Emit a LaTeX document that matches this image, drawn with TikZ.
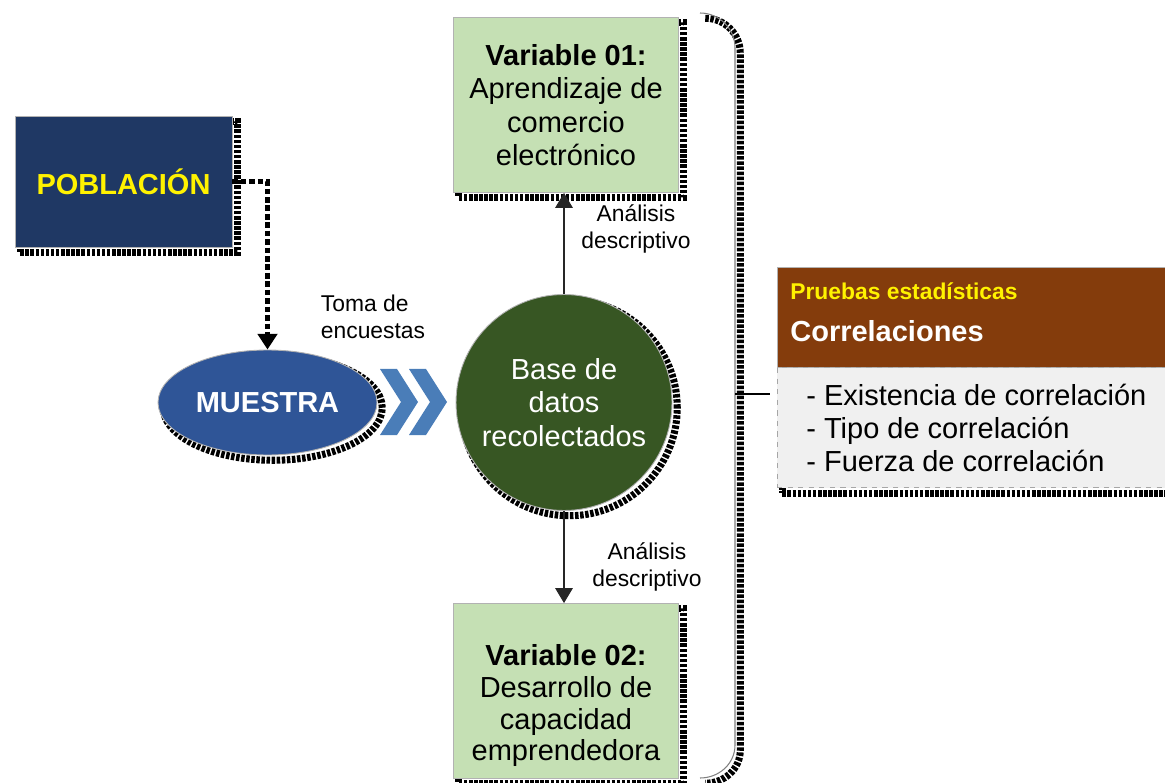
\documentclass[tikz,border=0pt]{standalone}
\usepackage{fontspec}
\setmainfont{Liberation Sans}
\usetikzlibrary{arrows.meta, positioning, shapes.geometric}
\definecolor{navy}{HTML}{1F3864}
\definecolor{muesblue}{HTML}{2F5597}
\definecolor{dbgreen}{HTML}{375623}
\definecolor{varfill}{HTML}{C5E0B4}
\definecolor{corrbrown}{HTML}{843C0C}
\definecolor{listgray}{HTML}{F0F0F0}
\definecolor{chevblue}{HTML}{4A7DB8}
\newcommand\bigtxt{\fontsize{16.5}{19}\selectfont}
\newcommand\smalltxt{\fontsize{13}{15.6}\selectfont}
\tikzstyle{dither}=[preaction={draw=black, line width=4pt, dash pattern=on 2pt off 0.9pt, transform canvas={shift={(3pt,-3pt)}}}]
\tikzstyle{pobbox}=[rectangle, draw=gray!60, line width=0.5pt, fill=navy, dither, minimum width=4.34cm, minimum height=2.62cm, text=yellow, font=\bfseries\bigtxt]
\tikzstyle{muesnode}=[ellipse, draw=gray!60, line width=0.5pt, fill=muesblue, dither, inner sep=0pt, minimum width=4.38cm, minimum height=2.1cm, text=white, font=\bfseries\bigtxt]
\tikzstyle{basenode}=[circle, draw=gray!60, line width=0.5pt, fill=dbgreen, dither, minimum size=4.32cm, text=white, align=center, font=\bigtxt]
\tikzstyle{varbox}=[rectangle, draw=gray!60, line width=0.5pt, fill=varfill, dither, minimum width=4.5cm, minimum height=3.5cm, align=center, font=\bigtxt]
\tikzstyle{lbl}=[align=center, font=\smalltxt, inner sep=0pt]
\tikzstyle{dotconn}=[draw=black, line width=2.4pt, dash pattern=on 3.2pt off 1.6pt, -{Triangle[width=11pt,length=9pt]}]
\tikzstyle{thinarrow}=[draw=black!85, line width=0.6pt, -{Triangle[width=10pt,length=8.5pt]}]

\begin{document}
\begin{tikzpicture}[x=0.02cm, y=-0.02cm]
  \useasboundingbox (0,0) rectangle (1165,783);

  \node[pobbox]   (pob)  at (123.5,181.5) {POBLACIÓN};
  \node[muesnode] (mues) at (267.5,402.5) {MUESTRA};
  \node[basenode] (base) at (564,402.5) {Base de\\datos\\recolectados};
  \node[varbox]   (var1) at (566,105) {\textbf{Variable 01:}\\Aprendizaje de\\comercio\\electrónico};
  \node[varbox]   (var2) at (566,691) {};
  \node[align=center, font=\bigtxt, inner sep=0pt] (var2txt) at ([yshift=-8.5pt]var2.center)
    {\textbf{Variable 02:}\\[-1pt]Desarrollo de\\[-1pt]capacidad\\[-1pt]emprendedora};

  \node[lbl, align=left] (toma) at (373,317) {Toma de\\encuestas};
  \node[lbl] (an1) at (636,229) {Análisis\\descriptivo};
  \node[lbl] (an2) at (647,567) {Análisis\\descriptivo};

  % chevrons between muestra and base
  \foreach \dx in {0,29}
    \fill[chevblue, shift={(\dx,0)}] (380,369) -- (397,369) -- (418,402) -- (397,435)
      -- (380,435) -- (401,402) -- cycle;

  \draw[dotconn] (pob.east) -| (mues.north);
  \path
    (base.north) edge[thinarrow] (base.north |- var1.south)
    (base.south) edge[thinarrow] (base.south |- var2.north);

  % pruebas estadisticas
  \node[rectangle, fill=corrbrown, draw=gray!60, line width=0.5pt, minimum width=7.76cm, minimum height=2cm] (head) at (971,317) {};
  \node[rectangle, fill=listgray, draw=gray!70, dashed, line width=0.5pt, dither, minimum width=7.76cm, minimum height=2.4cm,
        below=0pt of head] (list) {};
  \node[anchor=west, inner sep=0pt, align=left, font=\bigtxt] (items) at (806,428)
    {- Existencia de correlación\\- Tipo de correlación\\- Fuerza de correlación};
  \node[anchor=west, inner sep=0pt, text=yellow, font=\bfseries\smalltxt] (pe) at (790,291) {Pruebas estadísticas};
  \node[anchor=west, inner sep=0pt, text=white, font=\bfseries\bigtxt] (corr) at (790,331) {Correlaciones};

  % bracket
  \coordinate (brtop) at (700,13);
  \coordinate (brbot) at (700,778);
  \coordinate (brmid) at (735,394);
  \draw[gray, line width=0.6pt, dither] (brtop) to[out=0, in=90] (735,48) -- (735,745) to[out=-90, in=0] (brbot);
  \draw[black, line width=0.6pt] (brmid) -- ([xshift=-4pt]list.west |- brmid);
\end{tikzpicture}
\end{document}
